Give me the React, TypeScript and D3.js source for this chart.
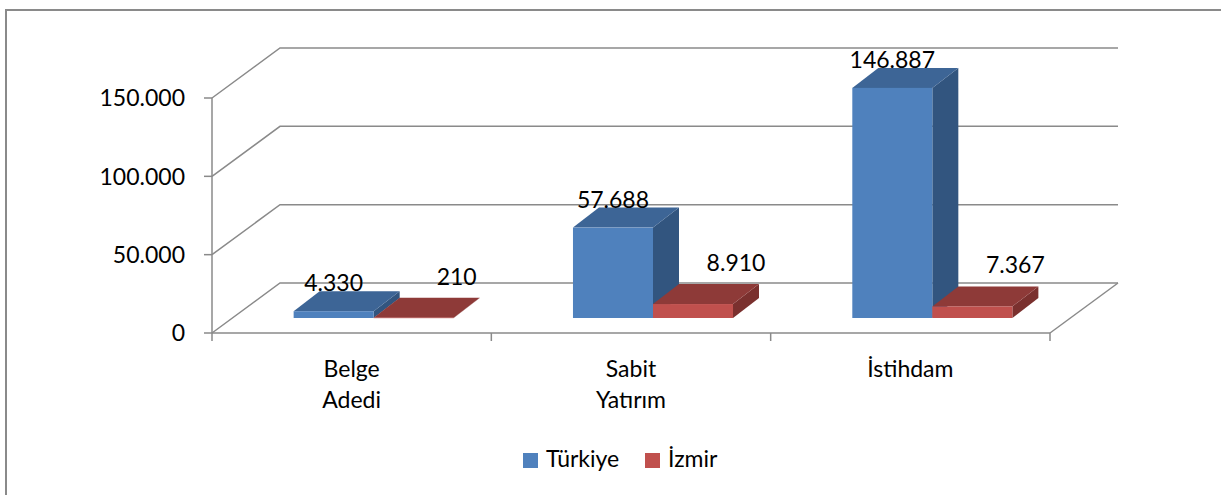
import React from "react";
import * as d3 from "d3";

const categories = ["Belge Adedi", "Sabit Yatırım", "İstihdam"];
const seriesNames = ["Türkiye", "İzmir"];
const turkiye = [4330, 57688, 146887];
const izmir = [210, 8910, 7367];
const yTicks = [0, 50000, 100000, 150000];

const W = 1221;
const H = 495;
const FONT = "Lato, 'Open Sans', 'Liberation Sans', sans-serif";

// front plane of the box and its depth offset
const left = 212, right = 1050, floorY = 333, topY = 98;
const depthX = 68, depthY = -50;
// where the bars sit in depth
const frontX = 22, frontY = -15;
const barDX = 26, barDY = -20;

const colors = {
  Türkiye: { front: "#4F81BD", top: "#3D6596", side: "#32557F" },
  İzmir: { front: "#C0504D", top: "#8E3A38", side: "#7A302E" },
};

const fmt = d3.formatLocale({ decimal: ",", thousands: ".", grouping: [3], currency: ["", ""] }).format(",d");

export default function App() {
  const x0 = d3.scaleBand<string>().domain(categories).range([left, right]);
  const bw = x0.bandwidth();
  const groupW = bw * 0.573;
  const x1 = d3.scaleBand<string>().domain(seriesNames).range([0, groupW]);
  const y = d3.scaleLinear().domain([0, 150000]).range([floorY, topY]);
  const values: Record<string, number[]> = { Türkiye: turkiye, İzmir: izmir };
  const gridColor = "#8a8a8a";

  const bars = categories.flatMap((cat, i) =>
    seriesNames.map((s) => {
      const v = values[s][i];
      const x = (x0(cat) as number) + (bw - groupW) / 2 + frontX + (x1(s) as number);
      const w = x1.bandwidth();
      const yt = y(v) + frontY;
      const yb = floorY + frontY;
      return { cat, s, v, x, w, yt, yb };
    })
  );

  return (
    <div style={{ position: "fixed", left: 0, top: 0 }}>
      <svg width={W} height={H} style={{ display: "block", background: "#fff" }} fontFamily={FONT}>
        <rect x={6} y={10} width={W + 20} height={H + 20} fill="#fff" stroke="#8a8a8a" strokeWidth={2} />

        {/* back wall + left wall gridlines */}
        {yTicks.map((t) => (
          <polyline
            key={"g" + t}
            points={`${left},${y(t)} ${left + depthX},${y(t) + depthY} ${right + depthX},${y(t) + depthY}`}
            fill="none"
            stroke={gridColor}
            strokeWidth={1.5}
          />
        ))}
        {/* floor */}
        <polyline
          points={`${right},${floorY} ${right + depthX},${floorY + depthY}`}
          fill="none"
          stroke={gridColor}
          strokeWidth={1.5}
        />

        {/* bars */}
        {bars.map((b) => {
          const c = colors[b.s as keyof typeof colors];
          return (
            <g key={b.cat + b.s}>
              <polygon
                points={`${b.x + b.w},${b.yt} ${b.x + b.w + barDX},${b.yt + barDY} ${b.x + b.w + barDX},${b.yb + barDY} ${b.x + b.w},${b.yb}`}
                fill={c.side}
              />
              <polygon
                points={`${b.x},${b.yt} ${b.x + b.w},${b.yt} ${b.x + b.w + barDX},${b.yt + barDY} ${b.x + barDX},${b.yt + barDY}`}
                fill={c.top}
              />
              <rect x={b.x} y={b.yt} width={b.w} height={Math.max(b.yb - b.yt, 0.5)} fill={c.front} />
            </g>
          );
        })}

        {/* data labels */}
        {bars.map((b) => {
          const isFirst = b.s === seriesNames[0];
          return (
            <text
              key={"l" + b.cat + b.s}
              x={b.x + b.w / 2 + (isFirst ? 0 : 43)}
              y={b.yt + barDY - (isFirst ? 0 : 13)}
              textAnchor="middle"
              fontSize={23}
              fill="#000"
            >
              {fmt(b.v)}
            </text>
          );
        })}

        {/* front floor line + x ticks */}
        <line x1={left} x2={right} y1={floorY} y2={floorY} stroke={gridColor} strokeWidth={1.5} />
        {[...categories.map((c) => x0(c) as number), right].map((tx, i) => (
          <line key={"xt" + i} x1={tx} x2={tx} y1={floorY} y2={floorY + 8} stroke={gridColor} strokeWidth={1.5} />
        ))}

        {/* y axis */}
        <line x1={left} x2={left} y1={topY} y2={floorY} stroke={gridColor} strokeWidth={1.5} />
        {yTicks.map((t) => (
          <g key={"yt" + t}>
            <line x1={left - 8} x2={left} y1={y(t)} y2={y(t)} stroke={gridColor} strokeWidth={1.5} />
            <text x={185} y={y(t)} dy="0.36em" textAnchor="end" fontSize={23} fill="#000">
              {fmt(t)}
            </text>
          </g>
        ))}

        {/* category labels */}
        {categories.map((c) => (
          <text key={"c" + c} x={(x0(c) as number) + bw / 2} y={377} textAnchor="middle" fontSize={23} fill="#000">
            {c.split(" ").map((w, j) => (
              <tspan key={j} x={(x0(c) as number) + bw / 2} dy={j === 0 ? 0 : 31}>
                {w}
              </tspan>
            ))}
          </text>
        ))}

        {/* legend */}
        {seriesNames.map((s, i) => {
          const lx = i === 0 ? 523 : 645;
          return (
            <g key={"lg" + s}>
              <rect x={lx} y={453} width={15} height={15} fill={colors[s as keyof typeof colors].front} />
              <text x={lx + 23} y={467} fontSize={23} fill="#000">
                {s}
              </text>
            </g>
          );
        })}
      </svg>
    </div>
  );
}
